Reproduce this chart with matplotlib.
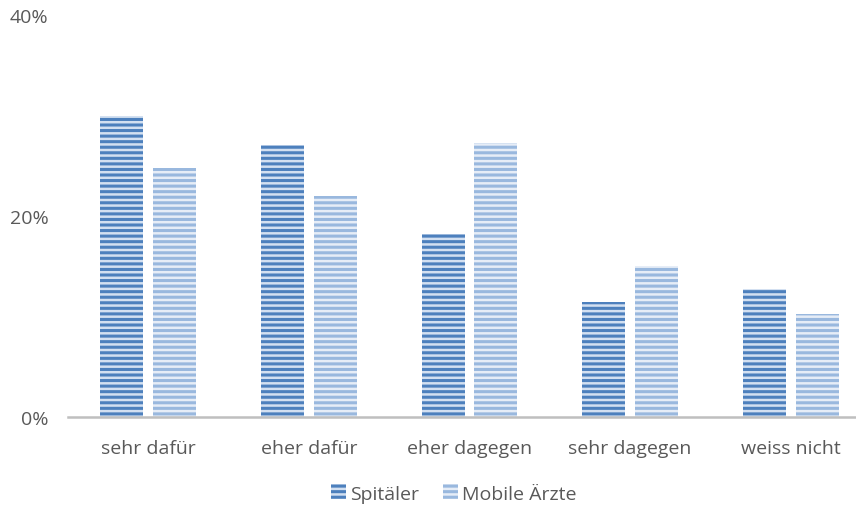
import matplotlib.pyplot as plt
import numpy as np

# Umfrage: Spitäler vs. mobile Ärzte
kategorien = ["sehr dafür", "eher dafür", "eher dagegen", "sehr dagegen", "weiss nicht"]
spitaeler = [30.0, 27.1, 18.2, 11.4, 12.7]
mobile_aerzte = [24.8, 22.0, 27.3, 15.0, 10.2]
yticks = [0, 20, 40]
ytick_labels = ["0%", "20%", "40%"]

plt.rcParams['font.family'] = ['Open Sans', 'DejaVu Sans']
plt.rcParams['hatch.linewidth'] = 2.2

fig = plt.figure(figsize=(8.56, 5.06), dpi=100)
ax = fig.add_axes([68 / 856, 1 - 418 / 506, 803 / 856, 402 / 506])

x = np.arange(len(kategorien))
breite = 0.268
b1 = ax.bar(x - 0.164, spitaeler, breite, color='#d3e0f1', hatch='---',
            edgecolor='#4a7ebb', linewidth=0, label='Spitäler')
b2 = ax.bar(x + 0.164, mobile_aerzte, breite, color='#e6edf7', hatch='---',
            edgecolor='#9bb9de', linewidth=0, label='Mobile Ärzte')
for b in b1:
    b._hatch_color = (0.30, 0.50, 0.74, 1)
for b in b2:
    b._hatch_color = (0.60, 0.72, 0.87, 1)

ax.set_xlim(-0.5, 4.5)
ax.set_ylim(0, 40)
ax.set_yticks(yticks)
ax.set_yticklabels(ytick_labels)
ax.set_xticks(x)
ax.set_xticklabels(kategorien)
ax.tick_params(axis='both', length=0, labelsize=14, colors='#595959')
ax.tick_params(axis='x', pad=16)
ax.tick_params(axis='y', pad=14)

for s in ['top', 'right', 'left']:
    ax.spines[s].set_visible(False)
ax.spines['bottom'].set_color('#bfbfbf')
ax.spines['bottom'].set_linewidth(1.8)

leg = fig.legend(handles=[b1, b2], loc='lower center', bbox_to_anchor=(0.53, -0.03),
                 ncol=2, frameon=False, fontsize=14, handlelength=0.8,
                 handleheight=0.8, handletextpad=0.2, columnspacing=1.2)
for t in leg.get_texts():
    t.set_color('#595959')

fig.savefig('out.png', dpi=100)
